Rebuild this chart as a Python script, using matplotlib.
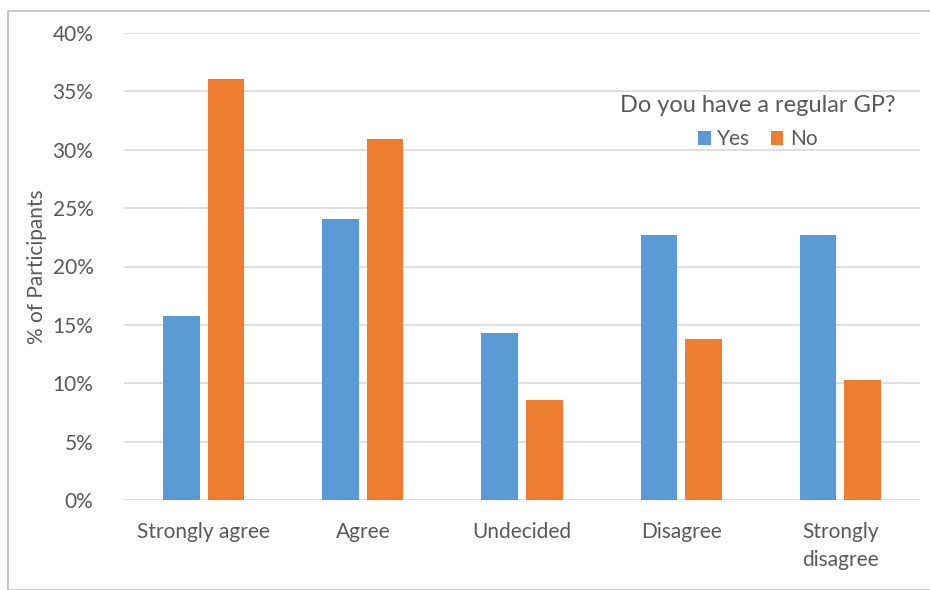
import numpy as np
import matplotlib.pyplot as plt
from matplotlib.patches import Rectangle
from matplotlib.ticker import PercentFormatter

# survey answers split by whether the participant has a regular GP
categories = ["Strongly agree", "Agree", "Undecided", "Disagree", "Strongly\ndisagree"]
yes_pct = [15.8, 24.1, 14.3, 22.7, 22.7]
no_pct = [36.1, 30.9, 8.6, 13.8, 10.3]

blue = "#5b9bd5"
orange = "#ed7d31"
text_col = "#595959"

plt.rcParams["font.family"] = ["Lato", "DejaVu Sans"]

fig = plt.figure(figsize=(9.3, 5.9), dpi=100)
ax = fig.add_axes([124 / 930, 90 / 590, 796 / 930, 467 / 590])

# light frame around the whole chart
fig.patches.append(Rectangle((8 / 930, 0), 1.0, 579 / 590, transform=fig.transFigure,
                             fill=False, edgecolor="#bfbfbf", linewidth=1.2))

x = np.arange(len(categories))
w = 0.23
off = 0.14
ax.bar(x - off, yes_pct, w, color=blue, label="Yes", zorder=3)
ax.bar(x + off, no_pct, w, color=orange, label="No", zorder=3)

ax.set_xlim(-0.5, len(categories) - 0.5)
ax.set_ylim(0, 40)
ax.set_yticks(np.arange(0, 41, 5))
ax.yaxis.set_major_formatter(PercentFormatter(decimals=0))
ax.grid(axis="y", color="#d9d9d9", linewidth=1.2, zorder=0)
ax.set_xticks(x)
ax.set_xticklabels(categories, fontsize=15, color=text_col, linespacing=1.5)
ax.tick_params(axis="y", labelsize=15, labelcolor=text_col, length=0, pad=22)
ax.tick_params(axis="x", length=0, pad=16)
for s in ax.spines.values():
    s.set_visible(False)

ax.set_ylabel("% of Participants", fontsize=15, color=text_col, labelpad=4)

leg = ax.legend(title="Do you have a regular GP?", loc="upper right",
                bbox_to_anchor=(0.985, 0.895), frameon=False, ncol=2,
                fontsize=15, title_fontsize=17, handlelength=0.6, handleheight=0.6,
                handletextpad=0.3, columnspacing=1.0, labelcolor=text_col,
                borderaxespad=0.2)
leg.get_title().set_color(text_col)
leg._legend_box.sep = 10

fig.savefig("out.png", dpi=100)
